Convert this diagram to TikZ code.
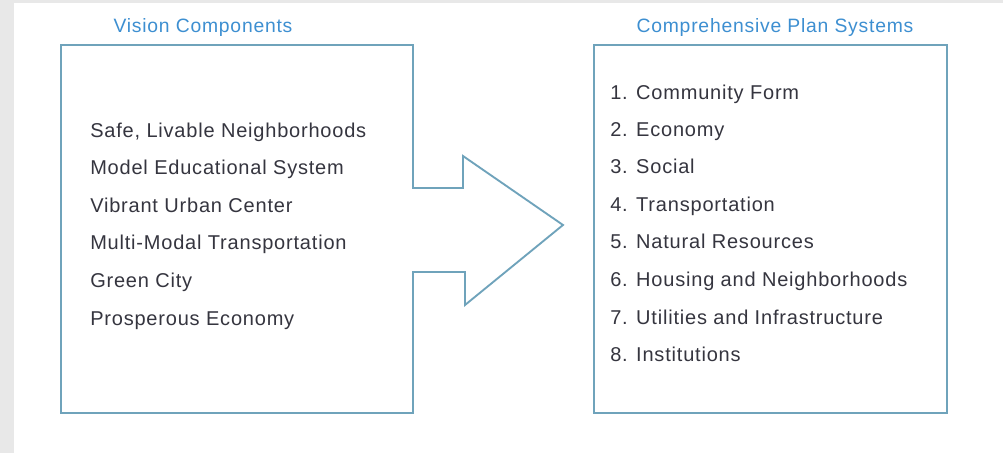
\documentclass[tikz,border=0pt]{standalone}
\usepackage{fontspec}
\setmainfont{Liberation Sans}[LetterSpace=4]
\definecolor{boxLine}{HTML}{6FA3BB}
\definecolor{titleBlue}{HTML}{3D8FD1}
\definecolor{itemGrey}{HTML}{35353F}
\definecolor{pageGrey}{HTML}{E8E8E8}
\begin{document}
\begin{tikzpicture}[x=0.75pt, y=-0.75pt,
                    titleStyle/.style={anchor=base, text=titleBlue, font=\fontsize{14.5}{17}\selectfont, inner sep=0pt},
                    itemStyle/.style={anchor=base west, text=itemGrey, font=\fontsize{15}{18}\selectfont, inner sep=0pt},
                    lineStyle/.style={draw=boxLine, line width=1.4pt}]
                    \fill[pageGrey] (0, 0) rectangle (1003, 453);
                    \fill[white] (14, 3) rectangle (1003, 453);

                    \draw[lineStyle] (61, 45) -- (413, 45) -- (413, 188) -- (463, 188) -- (463, 156) -- (563, 225)
                                     -- (465, 305) -- (465, 272) -- (413, 272) -- (413, 413) -- (61, 413) -- cycle;
                    \draw[lineStyle] (594, 45) rectangle (947, 413);

                    \node[titleStyle](vision) at (203, 33) {Vision Components};
                    \node[titleStyle](plan) at (775, 33) {Comprehensive Plan Systems};

                    \node[itemStyle](v1) at (90, 137.5) {Safe, Livable Neighborhoods};
                    \node[itemStyle](v2) at (90, 174.5) {Model Educational System};
                    \node[itemStyle](v3) at (90, 212.5) {Vibrant Urban Center};
                    \node[itemStyle](v4) at (90, 249.5) {Multi-Modal Transportation};
                    \node[itemStyle](v5) at (90, 287.5) {Green City};
                    \node[itemStyle](v6) at (90, 325.5) {Prosperous Economy};

                    \node[itemStyle](p1) at (610, 99.5) {1. Community Form};
                    \node[itemStyle](p2) at (610, 136.5) {2. Economy};
                    \node[itemStyle](p3) at (610, 173.5) {3. Social};
                    \node[itemStyle](p4) at (610, 211.5) {4. Transportation};
                    \node[itemStyle](p5) at (610, 248.5) {5. Natural Resources};
                    \node[itemStyle](p6) at (610, 286.5) {6. Housing and Neighborhoods};
                    \node[itemStyle](p7) at (610, 324.5) {7. Utilities and Infrastructure};
                    \node[itemStyle](p8) at (610, 361.5) {8. Institutions};
                \end{tikzpicture}
\end{document}
